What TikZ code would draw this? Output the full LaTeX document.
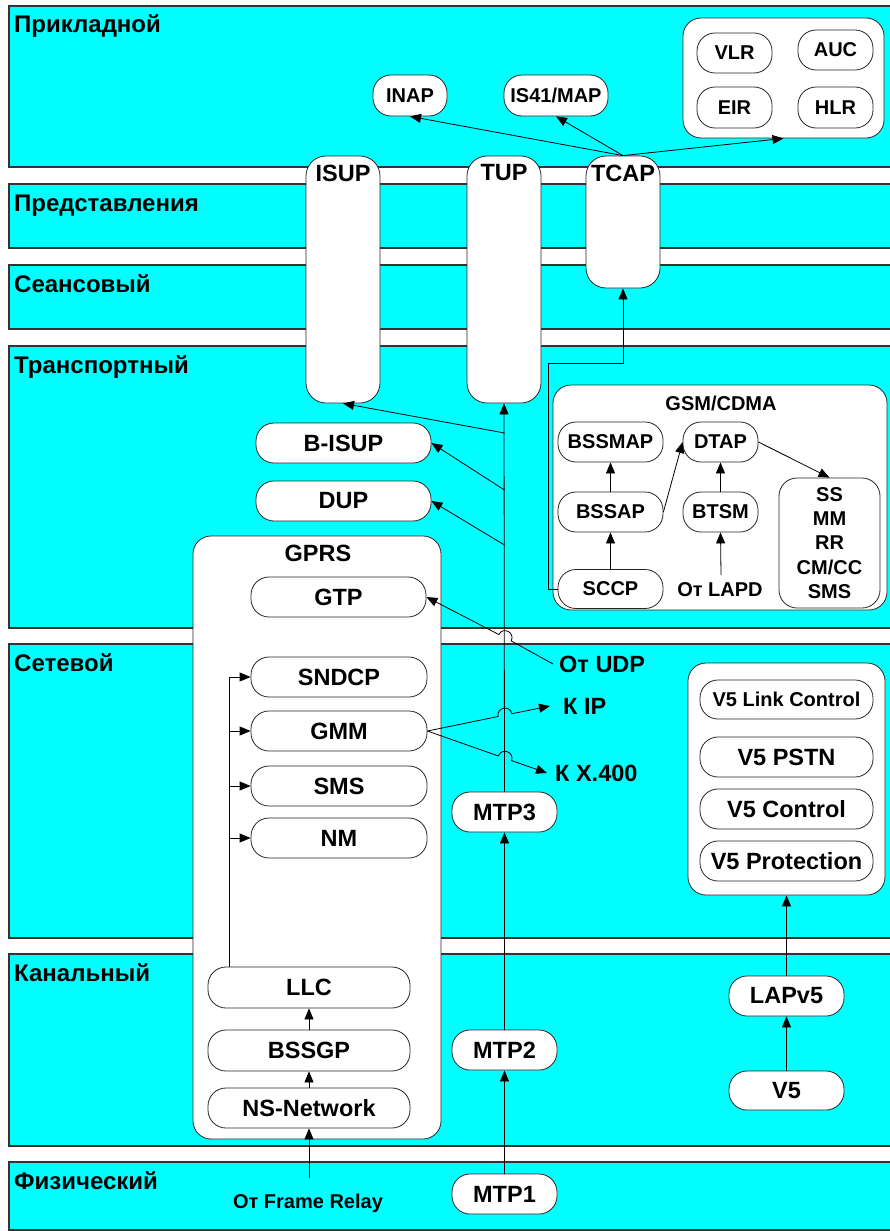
\documentclass[tikz,border=0pt]{standalone}
\usepackage{fontspec}
\setmainfont{Liberation Sans}
\usetikzlibrary{arrows.meta,calc}
\definecolor{aqua}{RGB}{0,255,255}
\begin{document}
\begin{tikzpicture}[x=1pt,y=-1pt,
  band/.style={draw=black!80, fill=aqua, line width=1.1pt},
  bandlbl/.style={anchor=base west, inner sep=0, font=\fontsize{24}{28}\selectfont\bfseries},
  pill/.style={draw=black!85, fill=white, rounded corners=18pt, line width=0.8pt, inner sep=0, font=\fontsize{23.5}{27}\selectfont\bfseries},
  spill/.style={pill, font=\fontsize{20}{24}\selectfont\bfseries},
  cont/.style={draw=black!85, fill=white, rounded corners=18pt, line width=0.8pt, inner sep=0},
  tall/.style={draw=black!85, fill=white, rounded corners=20pt, line width=0.8pt, inner sep=0},
  bigt/.style={inner sep=0, font=\fontsize{23.5}{27}\selectfont\bfseries},
  smt/.style={inner sep=0, font=\fontsize{20}{24}\selectfont\bfseries},
  arr/.style={-{Triangle[length=11pt,width=9pt]}, line width=0.8pt},
  ln/.style={line width=0.8pt}
]
\clip (0,0) rectangle (890,1231);
\fill[white] (0,0) rectangle (890,1231);
% layers
\draw[band] (9,6) rectangle (895,167);
\draw[band] (9,184) rectangle (895,248);
\draw[band] (9,265) rectangle (895,329);
\draw[band] (9,346) rectangle (895,628);
\draw[band] (9,644) rectangle (895,938);
\draw[band] (9,954) rectangle (895,1146);
\draw[band] (9,1162) rectangle (895,1230);
\node[bandlbl] (L7) at (14,33) {Прикладной};
\node[bandlbl] (L6) at (14,211) {Представления};
\node[bandlbl] (L5) at (14,292) {Сеансовый};
\node[bandlbl] (L4) at (14,373) {Транспортный};
\node[bandlbl] (L3) at (14,671) {Сетевой};
\node[bandlbl] (L2) at (14,981) {Канальный};
\node[bandlbl] (L1) at (14,1189) {Физический};

% top-right container
\node[cont, minimum width=201pt, minimum height=120pt] (regs) at (783.5,78) {};
\node[spill, minimum width=75pt, minimum height=40pt] (VLR) at (734.5,53) {VLR};
\node[spill, minimum width=75pt, minimum height=40pt] (AUC) at (835.5,50) {AUC};
\node[spill, minimum width=75pt, minimum height=41pt] (EIR) at (734.5,107.5) {EIR};
\node[spill, minimum width=75pt, minimum height=41pt] (HLR) at (835.5,107.5) {HLR};
\node[spill, minimum width=74pt, minimum height=41pt] (INAP) at (410,95.5) {INAP};
\node[spill, minimum width=104pt, minimum height=41pt] (IS41) at (556,95.5) {IS41/MAP};

% tall boxes
\node[tall, minimum width=74pt, minimum height=247pt] (ISUP) at (343,279.5) {};
\node[bigt] (ISUPt) at (343,173) {ISUP};
\node[tall, minimum width=74pt, minimum height=247pt] (TUP) at (504,279.5) {};
\node[bigt] (TUPt) at (504,173) {TUP};
\node[tall, minimum width=74pt, minimum height=132pt] (TCAP) at (623,222) {};
\node[bigt] (TCAPt) at (623,173) {TCAP};

\node[pill, minimum width=175pt, minimum height=40pt] (BISUP) at (343.5,443) {B-ISUP};
\node[pill, minimum width=175pt, minimum height=40pt] (DUP) at (343.5,501) {DUP};

% GPRS
\node[cont, minimum width=248pt, minimum height=603pt] (GPRS) at (317,837.5) {};
\node[bigt] (GPRSt) at (318,553) {GPRS};
\node[pill, minimum width=175pt, minimum height=40pt] (GTP) at (338.5,597) {GTP};
\node[pill, minimum width=176pt, minimum height=40pt] (SNDCP) at (339,677) {SNDCP};
\node[pill, minimum width=176pt, minimum height=40pt] (GMM) at (339,731) {GMM};
\node[pill, minimum width=176pt, minimum height=40pt] (SMS) at (339,786) {SMS};
\node[pill, minimum width=176pt, minimum height=40pt] (NM) at (339,838) {NM};
\node[pill, minimum width=202pt, minimum height=41pt] (LLC) at (309,987.5) {LLC};
\node[pill, minimum width=202pt, minimum height=41pt] (BSSGP) at (309,1050.5) {BSSGP};
\node[pill, minimum width=202pt, minimum height=40pt] (NS) at (309,1108) {NS-Network};
\node[smt] (FR) at (308,1203) {От Frame Relay};
\coordinate (frin) at (309,1178);

% MTP
\node[pill, minimum width=105pt, minimum height=40pt] (MTP3) at (504.5,812) {MTP3};
\node[pill, minimum width=105pt, minimum height=40pt] (MTP2) at (504.5,1050) {MTP2};
\node[pill, minimum width=105pt, minimum height=40pt] (MTP1) at (504.5,1194) {MTP1};

% GSM/CDMA
\node[cont, minimum width=334pt, minimum height=225pt] (GSM) at (720,497.5) {};
\node[smt] (GSMt) at (721,403) {GSM/CDMA};
\node[spill, minimum width=105pt, minimum height=40pt] (BSSMAP) at (610.5,442) {BSSMAP};
\node[spill, minimum width=75pt, minimum height=40pt] (DTAP) at (720.5,442) {DTAP};
\node[spill, minimum width=105pt, minimum height=40pt] (BSSAP) at (610.5,512) {BSSAP};
\node[spill, minimum width=75pt, minimum height=40pt] (BTSM) at (720.5,512) {BTSM};
\node[spill, minimum width=105pt, minimum height=39pt] (SCCP) at (610.5,589) {SCCP};
\node[smt] (LAPD) at (720,590) {От LAPD};
\coordinate (lapdin) at (721,575);
\node[spill, minimum width=101pt, minimum height=130pt, align=center, font=\fontsize{20}{24.3}\selectfont\bfseries] (SSB) at (829.5,543) {SS\\MM\\RR\\CM/CC\\SMS};

% V5
\node[cont, minimum width=197pt, minimum height=232pt] (V5box) at (786.5,779) {};
\node[spill, minimum width=173pt, minimum height=39pt] (V5LC) at (786.5,699.5) {V5 Link Control};
\node[pill, minimum width=173pt, minimum height=40pt] (V5PSTN) at (786.5,757) {V5 PSTN};
\node[pill, minimum width=173pt, minimum height=40pt] (V5C) at (786.5,809) {V5 Control};
\node[pill, minimum width=173pt, minimum height=40pt] (V5P) at (786.5,861) {V5 Protection};
\node[pill, minimum width=115pt, minimum height=40pt] (LAPv5) at (786.5,996) {LAPv5};
\node[pill, minimum width=115pt, minimum height=39pt] (V5) at (786.5,1090.5) {V5};

% outside labels
\node[bigt, anchor=west, inner xsep=6pt] (UDP) at (553,664) {От UDP};
\node[bigt, anchor=west, inner xsep=13pt] (KIP) at (550,706) {К IP};
\node[bigt, anchor=west, inner xsep=8pt] (KX) at (547,773) {К X.400};

% connectors: TCAP up
\draw[arr] (TCAP.north) -- (INAP.south);
\draw[arr] (TCAP.north) -- (IS41.south);
\draw[arr] (TCAP.north) -- (regs.south);

% MTP chain
\draw[arr] (MTP1.north) -- (MTP2.south);
\draw[arr] (MTP2.north) -- (MTP3.south);
\draw[arr] (MTP3.north) -- (TUP.south);
\coordinate (br1) at (504.5,433);
\coordinate (br2) at (504.5,490);
\coordinate (br3) at (504.5,545);
\draw[arr] (br1) -- (ISUP.south);
\draw[arr] (br2) -- (BISUP.east);
\draw[arr] (br3) -- (DUP.east);

% hops over MTP line
\draw[arr] (UDP.west) -- (511.2,640.9) .. controls (515.5,632.6) and (503.1,626.2) .. (498.8,634.5) -- (GTP.east);
\draw[arr] (GMM.east) -- (498.1,716.5) .. controls (496.2,707.4) and (510.0,704.6) .. (511.9,713.7) -- (KIP.west);
\draw[arr] (GMM.east) -- (498.4,756.0) .. controls (501.5,747.2) and (514.7,751.8) .. (511.6,760.6) -- (KX.west);

% GPRS internal
\coordinate (trunk) at (229,967);
\draw[ln] (trunk) -- (trunk |- SNDCP.west);
\draw[arr] (trunk |- SNDCP.west) -- (SNDCP.west);
\draw[arr] (trunk |- GMM.west) -- (GMM.west);
\draw[arr] (trunk |- SMS.west) -- (SMS.west);
\draw[arr] (trunk |- NM.west) -- (NM.west);
\draw[arr] (BSSGP.north) -- (LLC.south);
\draw[arr] (NS.north) -- (BSSGP.south);
\draw[arr] (frin) -- (NS.south);

% GSM internal
\draw[arr] (SCCP.north) -- (BSSAP.south);
\draw[arr] (BSSAP.north) -- (BSSMAP.south);
\draw[arr] (BSSAP.east) -- (DTAP.west);
\draw[arr] (BTSM.north) -- (DTAP.south);
\draw[arr] (lapdin) -- (BTSM.south);
\draw[arr] (DTAP.east) -- (SSB.north);
\coordinate (turn) at (548,363);
\draw[arr] (SCCP.west) -| (turn) -| (TCAP.south);

% V5
\draw[arr] (V5.north) -- (LAPv5.south);
\draw[arr] (LAPv5.north) -- (V5box.south);
\end{tikzpicture}
\end{document}
